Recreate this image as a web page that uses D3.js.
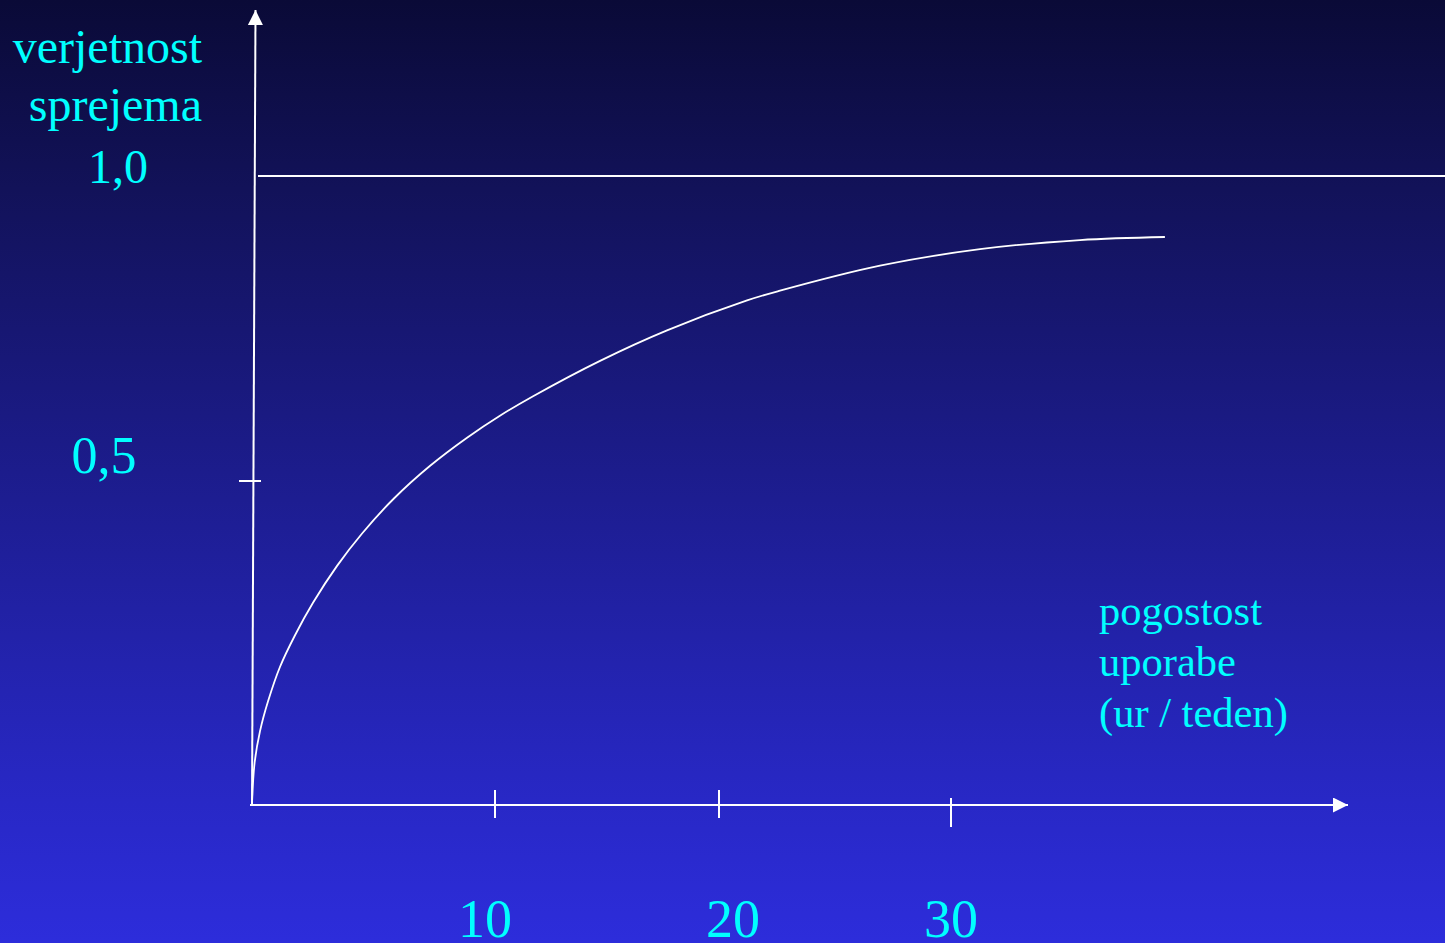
<!DOCTYPE html>
<html>
<head>
<meta charset="utf-8">
<script src="https://cdn.jsdelivr.net/npm/d3@7/dist/d3.min.js"></script>
<style>
  html, body { margin: 0; padding: 0; overflow: hidden; }
  svg { display: block; }
  text { font-family: "Liberation Serif", "Times New Roman", serif; fill: #00ffff; }
</style>
</head>
<body>
<script>
// Acceptance probability vs. weekly usage (hours / week)
const hours      = [0, 0.11, 0.33, 0.66, 1.15, 1.77, 2.51, 3.5, 4.53, 5.84, 7.33, 8.85, 10.22, 11.7, 14.69, 17.68, 21.21, 22.63, 26.94, 31.25, 35.56, 39.22];
const acceptance = [0.003, 0.066, 0.114, 0.160, 0.213, 0.262, 0.312, 0.369, 0.419, 0.473, 0.525, 0.571, 0.607, 0.639, 0.697, 0.747, 0.796, 0.812, 0.853, 0.880, 0.895, 0.900];

const xTickValues = [10, 20, 30];
const xTickLabels = ["10", "20", "30"];
const yTickValues = [0.5, 1.0];
const yTickLabels = ["0,5", "1,0"];
const yTitleLines = ["verjetnost", "sprejema"];
const xTitleLines = ["pogostost", "uporabe", "(ur / teden)"];

const W = 1445, H = 943;

const svg = d3.select("body").append("svg")
  .attr("width", W).attr("height", H);

// background gradient, dark navy to bright blue
const defs = svg.append("defs");
const grad = defs.append("linearGradient")
  .attr("id", "bg").attr("x1", 0).attr("y1", 0).attr("x2", 0).attr("y2", 1);
[[0, "#0a0a37"], [0.2, "#121259"], [0.5, "#1c1c8c"], [0.85, "#2828c6"], [1, "#2d2ddb"]]
  .forEach(([o, c]) => grad.append("stop").attr("offset", o).attr("stop-color", c));
svg.append("rect").attr("width", W).attr("height", H).attr("fill", "url(#bg)");

// arrow head
defs.append("marker")
  .attr("id", "arrow").attr("viewBox", "0 0 10 10")
  .attr("refX", 10).attr("refY", 5)
  .attr("markerWidth", 15).attr("markerHeight", 15)
  .attr("markerUnits", "userSpaceOnUse")
  .attr("orient", "auto")
  .append("path").attr("d", "M0,0 L10,5 L0,10 Z").attr("fill", "#ffffff");

// hand-spaced ticks: piecewise linear scales
const x = d3.scaleLinear().domain([0, 10, 20, 30]).range([252, 495, 719, 951]);
const y = d3.scaleLinear().domain([0, 0.5, 1]).range([805, 481, 176]);

const axisColor = "#ffffff";

// y axis (slightly leaning) with arrow
svg.append("line")
  .attr("x1", x(0)).attr("y1", y(0))
  .attr("x2", x(0) + 3.5).attr("y2", 10)
  .attr("stroke", axisColor).attr("stroke-width", 2)
  .attr("marker-end", "url(#arrow)");

// x axis with arrow
svg.append("line")
  .attr("x1", x(0) - 2).attr("y1", y(0))
  .attr("x2", 1348).attr("y2", y(0))
  .attr("stroke", axisColor).attr("stroke-width", 2)
  .attr("marker-end", "url(#arrow)");

// reference line at probability 1.0
svg.append("line")
  .attr("x1", x(0) + 6).attr("x2", W)
  .attr("y1", y(1)).attr("y2", y(1))
  .attr("stroke", axisColor).attr("stroke-width", 1.8);

// y tick at 0.5
svg.append("line")
  .attr("x1", 239).attr("x2", 261)
  .attr("y1", y(0.5)).attr("y2", y(0.5))
  .attr("stroke", axisColor).attr("stroke-width", 2);

// x ticks
svg.selectAll(".xtick").data(xTickValues).join("line")
  .attr("class", "xtick")
  .attr("x1", d => x(d)).attr("x2", d => x(d))
  .attr("y1", (d, i) => i === 2 ? 798 : 790)
  .attr("y2", (d, i) => i === 2 ? 827 : 818)
  .attr("stroke", axisColor).attr("stroke-width", 2);

// x tick labels
const xLabelNudge = [-10, 14, 0];
svg.selectAll(".xlab").data(xTickValues).join("text")
  .attr("class", "xlab")
  .attr("x", (d, i) => x(d) + xLabelNudge[i])
  .attr("y", 937)
  .attr("text-anchor", "middle")
  .attr("font-size", 54)
  .text((d, i) => xTickLabels[i]);

// y title block
svg.selectAll(".ytitle").data(yTitleLines).join("text")
  .attr("class", "ytitle")
  .attr("x", 202)
  .attr("y", (d, i) => 63 + i * 58)
  .attr("text-anchor", "end")
  .attr("font-size", 48)
  .text(d => d);

// y tick labels
const yLabelAt = [{ cx: 104, dy: -8, fs: 52 }, { cx: 118, dy: 7, fs: 48 }];
svg.selectAll(".ylab").data(yTickValues).join("text")
  .attr("class", "ylab")
  .attr("x", (d, i) => yLabelAt[i].cx)
  .attr("y", (d, i) => y(d) + yLabelAt[i].dy)
  .attr("text-anchor", "middle")
  .attr("font-size", (d, i) => yLabelAt[i].fs)
  .text((d, i) => yTickLabels[i]);

// x title block
svg.selectAll(".xtitle").data(xTitleLines).join("text")
  .attr("class", "xtitle")
  .attr("x", 1099)
  .attr("y", (d, i) => 625 + i * 51)
  .attr("font-size", 42.5)
  .text(d => d);

// acceptance curve
const line = d3.line()
  .x(d => x(d[0]))
  .y(d => y(d[1]))
  .curve(d3.curveCatmullRom.alpha(0.5));

svg.append("path")
  .datum(hours.map((h, i) => [h, acceptance[i]]))
  .attr("d", line)
  .attr("fill", "none")
  .attr("stroke", "#ffffff")
  .attr("stroke-width", 1.8);
</script>
</body>
</html>
